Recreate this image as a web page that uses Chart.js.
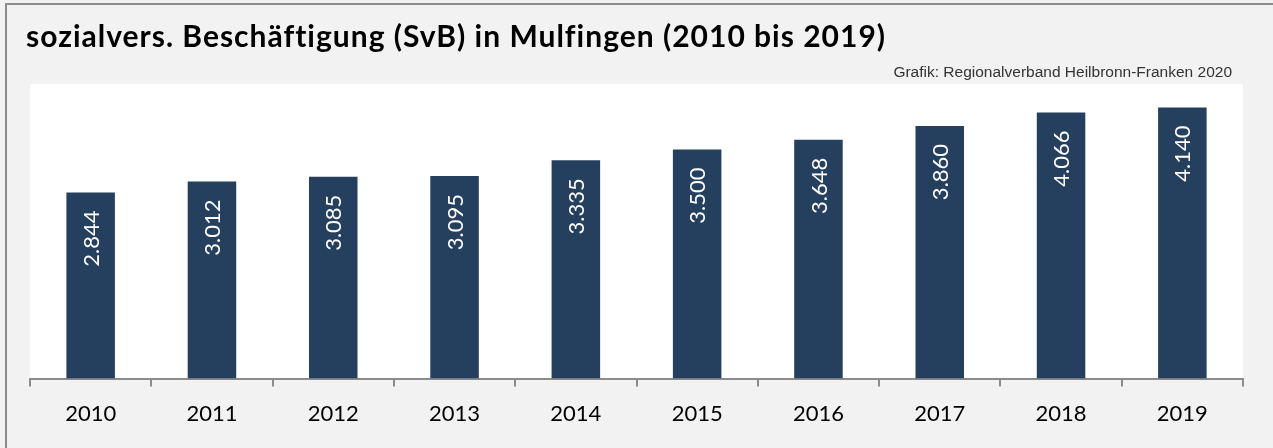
<!DOCTYPE html>
<html>
<head>
<meta charset="utf-8">
<script src="https://cdn.jsdelivr.net/npm/chart.js@4"></script>
<style>
  html, body { margin:0; padding:0; }
  body { width:1273px; height:448px; background:#f2f2f2; position:relative; overflow:hidden; }
  #frame { position:absolute; left:5px; top:3px; width:1290px; height:460px; border-left:2px solid #8c8c8c; border-top:2px solid #8c8c8c; box-sizing:border-box; }
  #title { position:absolute; left:26px; top:17px; font-family:Lato, sans-serif; font-weight:bold; font-size:30px; letter-spacing:1px; color:#000; white-space:nowrap; }
  #source { position:absolute; right:41px; top:63px; font-family:"Liberation Sans", Arial, sans-serif; font-size:15.5px; color:#333; white-space:nowrap; }
  #wrap { position:absolute; left:0; top:0; width:1273px; height:448px; }
</style>
</head>
<body>
<div id="frame"></div>
<div id="wrap"><canvas id="c" width="1273" height="448"></canvas></div>
<div id="title">sozialvers. Beschäftigung (SvB) in Mulfingen (2010 bis 2019)</div>
<div id="source">Grafik: Regionalverband Heilbronn-Franken 2020</div>
<script>
const years = ['2010','2011','2012','2013','2014','2015','2016','2017','2018','2019'];
const employees = [2844, 3012, 3085, 3095, 3335, 3500, 3648, 3860, 4066, 4140];

function fmtDE(v) {
  return String(v).replace(/\B(?=(\d{3})+(?!\d))/g, '.');
}

const plotBg = {
  id: 'plotBg',
  beforeDraw(chart) {
    const {ctx, chartArea:a} = chart;
    ctx.save();
    ctx.fillStyle = '#ffffff';
    ctx.fillRect(a.left, a.top, a.right - a.left, a.bottom - a.top);
    ctx.restore();
  }
};

const barLabels = {
  id: 'barLabels',
  afterDatasetsDraw(chart) {
    const ctx = chart.ctx;
    const meta = chart.getDatasetMeta(0);
    ctx.save();
    ctx.fillStyle = '#ffffff';
    ctx.font = '22px Lato, sans-serif';
    ctx.textAlign = 'right';
    ctx.textBaseline = 'middle';
    meta.data.forEach((bar, i) => {
      const p = bar.getProps(['x','y'], true);
      ctx.save();
      ctx.translate(p.x + 1, p.y + 18);
      ctx.rotate(-Math.PI / 2);
      ctx.fillText(fmtDE(employees[i]), 0, 0);
      ctx.restore();
    });
    ctx.restore();
  }
};

new Chart(document.getElementById('c'), {
  type: 'bar',
  data: {
    labels: years,
    datasets: [{
      data: employees,
      backgroundColor: '#253f5f',
      borderWidth: 0,
      barPercentage: 0.4,
      categoryPercentage: 1.0
    }]
  },
  options: {
    responsive: false,
    animation: false,
    layout: { padding: { left: 30, right: 30, top: 84, bottom: 7 } },
    plugins: { legend: { display: false }, tooltip: { enabled: false } },
    scales: {
      x: {
        offset: true,
        grid: { drawOnChartArea: false, drawTicks: true, tickLength: 8, color: '#8c8c8c', lineWidth: 2, offset: true },
        border: { color: '#8c8c8c', width: 2 },
        ticks: { color: '#000', font: { family: 'Lato, sans-serif', size: 22 }, padding: 14, maxRotation: 0 }
      },
      y: { display: false, min: 0, max: 4500 }
    }
  },
  plugins: [plotBg, barLabels]
});
</script>
</body>
</html>
